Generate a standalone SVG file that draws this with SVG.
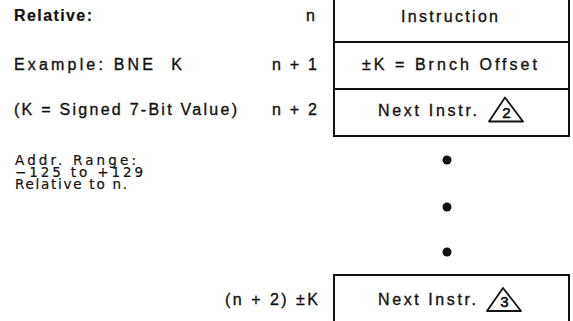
<svg xmlns="http://www.w3.org/2000/svg" width="573" height="321" viewBox="0 0 573 321">
<style>
  text { font-family: "Liberation Sans", Arial, sans-serif; font-size: 16px; fill: #111; stroke: #111; stroke-width: 0.35; }
  .b { font-weight: bold; stroke-width: 0.2; }
  .sm { font-family: "DejaVu Sans", "Liberation Sans", sans-serif; font-size: 13.5px; stroke-width: 0.2; }
  .tri { font-size: 15px; text-anchor: middle; stroke-width: 0.6; }
  .cell { fill: none; stroke: #111; stroke-width: 2; }
  .trishape { fill: none; stroke: #111; stroke-width: 1.8; stroke-linejoin: round; }
  .dot { fill: #111; }
</style>
<rect width="573" height="321" fill="#fff"/>

<g id="left-notes">
  <text class="b" x="14" y="21" textLength="78" lengthAdjust="spacing">Relative:</text>
  <text x="14" y="70" textLength="168" lengthAdjust="spacing" style="white-space:pre">Example: BNE  K</text>
  <text x="14" y="115" textLength="223" lengthAdjust="spacing">(K = Signed 7-Bit Value)</text>
  <text class="sm" x="15" y="165" textLength="121" lengthAdjust="spacing">Addr. Range:</text>
  <text class="sm" x="15" y="177" textLength="128" lengthAdjust="spacing">−125 to +129</text>
  <text class="sm" x="15" y="189" textLength="112" lengthAdjust="spacing">Relative to n.</text>
</g>

<g id="addr-labels">
  <text x="306" y="21">n</text>
  <text x="272" y="70" textLength="45" lengthAdjust="spacing">n + 1</text>
  <text x="272" y="115" textLength="45" lengthAdjust="spacing">n + 2</text>
  <text x="225" y="305" textLength="93" lengthAdjust="spacing">(n + 2) ±K</text>
</g>

<g id="cell-instruction">
  <path class="cell" d="M334,0 V42 M569,0 V42"/>
  <text x="401" y="22" textLength="97" lengthAdjust="spacing">Instruction</text>
</g>
<g id="cell-offset">
  <path class="cell" d="M334,42 H569 M334,42 V89 M569,42 V89"/>
  <text x="362" y="70" textLength="175" lengthAdjust="spacing">±K = Brnch Offset</text>
</g>
<g id="cell-next">
  <path class="cell" d="M334,89 H569 M334,89 V136 H569 V89"/>
  <text x="378" y="116" textLength="99" lengthAdjust="spacing">Next Instr.</text>
  <path class="trishape" d="M505,97.5 L489,121.5 L523,121.5 Z"/>
  <text class="tri" x="506.5" y="117.5">2</text>
</g>

<g id="ellipsis">
  <circle class="dot" cx="447" cy="160" r="4.5"/>
  <circle class="dot" cx="447" cy="207" r="4.5"/>
  <circle class="dot" cx="447" cy="252" r="4.5"/>
</g>

<g id="cell-target">
  <path class="cell" d="M334,321 V275 H569 V321"/>
  <text x="378" y="305" textLength="98" lengthAdjust="spacing">Next Instr.</text>
  <path class="trishape" d="M503,288 L487,311 L521,311 Z"/>
  <text class="tri" x="504.5" y="306.5">3</text>
</g>

<g id="connectors"></g>
</svg>
